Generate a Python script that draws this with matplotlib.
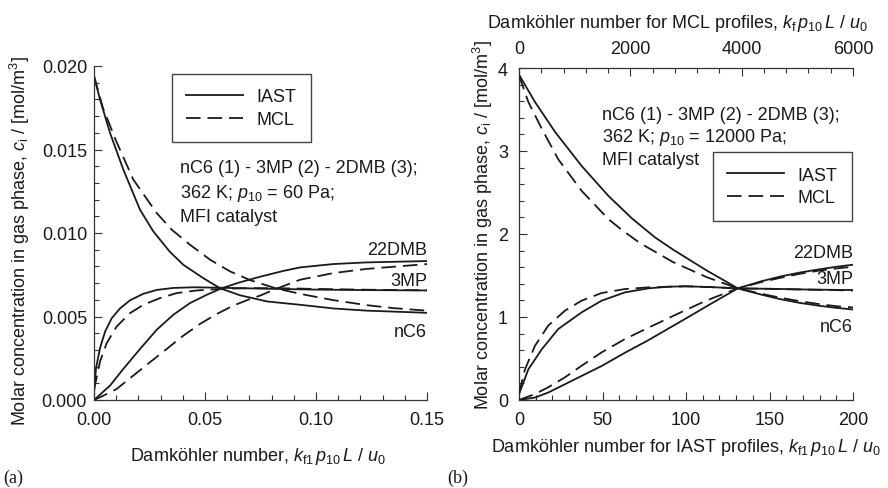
import matplotlib
matplotlib.use("Agg")
import matplotlib.pyplot as plt
from matplotlib.lines import Line2D
from matplotlib.ticker import MultipleLocator, FormatStrFormatter

plt.rcParams['font.family'] = ['Liberation Sans', 'DejaVu Sans']
plt.rcParams['mathtext.fontset'] = 'custom'
plt.rcParams['mathtext.rm'] = 'Liberation Sans'
plt.rcParams['mathtext.it'] = 'Liberation Sans:italic'
plt.rcParams['mathtext.bf'] = 'Liberation Sans:bold'
plt.rcParams['lines.scale_dashes'] = False

# ---------------- data: panel (a), x = k_f1 p10 L / u0 ----------------
a_nC6_iast_x = [0, 0.0027, 0.0072, 0.0132, 0.0207, 0.0267, 0.034, 0.0402, 0.0492, 0.0568, 0.0658, 0.078, 0.093, 0.108, 0.123, 0.15]
a_nC6_iast_y = [0.0194, 0.0180, 0.0160, 0.0138, 0.0114, 0.0101, 0.0089, 0.0081, 0.0073, 0.00669, 0.00627, 0.0059, 0.0057, 0.00548, 0.00535, 0.00522]
a_nC6_mcl_x = [0, 0.004, 0.010, 0.0177, 0.0282, 0.035, 0.0432, 0.0523, 0.0613, 0.0703, 0.0823, 0.095, 0.1078, 0.1228, 0.135, 0.15]
a_nC6_mcl_y = [0.0194, 0.0175, 0.0155, 0.0132, 0.0112, 0.0102, 0.0093, 0.0084, 0.0077, 0.00718, 0.00667, 0.0063, 0.00598, 0.00568, 0.0055, 0.00535]
a_3MP_iast_x = [0, 0.0009, 0.0027, 0.005, 0.008, 0.0117, 0.0162, 0.0222, 0.0282, 0.0357, 0.045, 0.0575, 0.075, 0.10, 0.125, 0.15]
a_3MP_iast_y = [0.0004, 0.0019, 0.0031, 0.0041, 0.0049, 0.00548, 0.00597, 0.00636, 0.00659, 0.00671, 0.00675, 0.00672, 0.00667, 0.00661, 0.00658, 0.00656]
a_3MP_mcl_x = [0, 0.0027, 0.0057, 0.0102, 0.0162, 0.0222, 0.0297, 0.0372, 0.0463, 0.0583, 0.07, 0.085, 0.10, 0.125, 0.15]
a_3MP_mcl_y = [0.0006, 0.0023, 0.0034, 0.0044, 0.0052, 0.0057, 0.0061, 0.0064, 0.00656, 0.00666, 0.0067, 0.00669, 0.00665, 0.0066, 0.00657]
a_22DMB_iast_x = [0, 0.0072, 0.0132, 0.0207, 0.0282, 0.0357, 0.0432, 0.0508, 0.0575, 0.0658, 0.0748, 0.0850, 0.0928, 0.1078, 0.1228, 0.15]
a_22DMB_iast_y = [0.0, 0.00086, 0.00186, 0.00305, 0.0042, 0.0051, 0.0058, 0.0063, 0.00669, 0.00705, 0.00738, 0.00772, 0.00794, 0.00814, 0.00824, 0.00832]
a_22DMB_mcl_x = [0, 0.0042, 0.0102, 0.0177, 0.0252, 0.0327, 0.0402, 0.0477, 0.0553, 0.0627, 0.0703, 0.0748, 0.0823, 0.0928, 0.1078, 0.1228, 0.15]
a_22DMB_mcl_y = [0.0, 0.00026, 0.00066, 0.00146, 0.00226, 0.00305, 0.00385, 0.00455, 0.00515, 0.00565, 0.00605, 0.00625, 0.00667, 0.0072, 0.0076, 0.00785, 0.00814]

# ---------------- data: panel (b) ----------------
# IAST profiles vs k_f1 p10 L / u0 (bottom axis, 0-200)
b_nC6_iast_x = [0, 9.6, 21.6, 37.5, 53.5, 67.5, 81.4, 92.4, 102, 112.4, 122, 131, 145, 156, 168, 180, 190, 200]
b_nC6_iast_y = [3.92, 3.59, 3.23, 2.82, 2.46, 2.19, 1.96, 1.81, 1.69, 1.56, 1.45, 1.345, 1.27, 1.217, 1.17, 1.135, 1.11, 1.09]
b_3MP_iast_x = [0, 5.6, 13.6, 23.5, 37.5, 49.5, 63.5, 77.4, 89.4, 100, 115, 131, 150, 175, 200]
b_3MP_iast_y = [0.07, 0.37, 0.61, 0.855, 1.056, 1.197, 1.297, 1.345, 1.365, 1.37, 1.36, 1.345, 1.34, 1.33, 1.325]
b_22DMB_iast_x = [0, 9.6, 17.5, 27.5, 37.5, 49.5, 63.5, 77.4, 89.4, 99.4, 115, 131, 145, 156, 168, 180, 190, 200]
b_22DMB_iast_y = [0.0, 0.03, 0.09, 0.19, 0.29, 0.41, 0.57, 0.72, 0.86, 0.976, 1.16, 1.345, 1.43, 1.485, 1.535, 1.575, 1.605, 1.63]
# MCL profiles vs k_f p10 L / u0 (top axis, 0-6000)
b_nC6_mcl_x = [0, 168, 408, 705, 1125, 1605, 1845, 2175, 2772, 3372, 3930, 4350, 4680, 5040, 5400, 5700, 6000]
b_nC6_mcl_y = [3.91, 3.59, 3.27, 2.90, 2.52, 2.18, 2.05, 1.89, 1.66, 1.48, 1.345, 1.28, 1.235, 1.19, 1.155, 1.13, 1.115]
b_3MP_mcl_x = [0, 108, 288, 525, 825, 1125, 1485, 1905, 2322, 2982, 3450, 3930, 4800, 6000]
b_3MP_mcl_y = [0.08, 0.37, 0.654, 0.896, 1.076, 1.197, 1.289, 1.337, 1.357, 1.37, 1.36, 1.345, 1.335, 1.32]
b_22DMB_mcl_x = [0, 288, 525, 825, 1125, 1485, 1905, 2322, 2682, 2982, 3372, 3930, 4350, 4680, 5040, 5400, 5700, 6000]
b_22DMB_mcl_y = [0.0, 0.072, 0.153, 0.273, 0.413, 0.574, 0.735, 0.87, 0.985, 1.08, 1.20, 1.345, 1.42, 1.47, 1.52, 1.56, 1.585, 1.605]

species_labels = ["22DMB", "3MP", "nC6"]
a_label_y = [0.00904, 0.00713, 0.00413]
b_label_y = [1.783, 1.458, 0.88]
legend_labels = ["IAST", "MCL"]

W, H = 888, 489
fig = plt.figure(figsize=(W / 100, H / 100), dpi=100)
INK = '#1a1a1a'
LW = 1.3
DASH = (10.5, 5.0)
FS = 13


def fx(px):
    return px / W


def fy(py):
    return 1 - py / H


def style_axis(ax):
    for s in ['top', 'right']:
        ax.spines[s].set_visible(False)
    for s in ['left', 'bottom']:
        ax.spines[s].set_linewidth(0.9)
        ax.spines[s].set_color('#333333')
    ax.tick_params(which='both', direction='in', color='#333333', width=0.8,
                   labelsize=FS, labelcolor=INK)
    ax.tick_params(which='major', length=5.5)
    ax.tick_params(which='minor', length=3.5)


# ---------------- panel (a) ----------------
axa = fig.add_axes([fx(94), fy(401), fx(427 - 94), (401 - 67) / H])
style_axis(axa)
axa.plot(a_nC6_iast_x, a_nC6_iast_y, color=INK, lw=LW)
axa.plot(a_3MP_iast_x, a_3MP_iast_y, color=INK, lw=LW)
axa.plot(a_22DMB_iast_x, a_22DMB_iast_y, color=INK, lw=LW)
axa.plot(a_nC6_mcl_x, a_nC6_mcl_y, color=INK, lw=LW, ls=(0, DASH))
axa.plot(a_3MP_mcl_x, a_3MP_mcl_y, color=INK, lw=LW, ls=(0, DASH))
axa.plot(a_22DMB_mcl_x, a_22DMB_mcl_y, color=INK, lw=LW, ls=(0, DASH))
axa.set_xlim(0, 0.15)
axa.set_ylim(0, 0.020)
axa.xaxis.set_major_locator(MultipleLocator(0.05))
axa.xaxis.set_minor_locator(MultipleLocator(0.01))
axa.yaxis.set_major_locator(MultipleLocator(0.005))
axa.yaxis.set_minor_locator(MultipleLocator(0.001))
axa.xaxis.set_major_formatter(FormatStrFormatter('%.2f'))
axa.yaxis.set_major_formatter(FormatStrFormatter('%.3f'))
axa.tick_params(axis='x', which='major', pad=8)
axa.tick_params(axis='y', which='major', pad=5)
for lab, yv in zip(species_labels, a_label_y):
    axa.text(0.15, yv, lab, ha='right', va='center', fontsize=FS, color=INK)

# ---------------- panel (b) ----------------
axb = fig.add_axes([fx(519), fy(401), fx(853 - 519), (401 - 69) / H])
style_axis(axb)
axb.plot(b_nC6_iast_x, b_nC6_iast_y, color=INK, lw=LW)
axb.plot(b_3MP_iast_x, b_3MP_iast_y, color=INK, lw=LW)
axb.plot(b_22DMB_iast_x, b_22DMB_iast_y, color=INK, lw=LW)
axb.set_xlim(0, 200)
axb.set_ylim(0, 4)
axb.xaxis.set_major_locator(MultipleLocator(50))
axb.xaxis.set_minor_locator(MultipleLocator(10))
axb.yaxis.set_major_locator(MultipleLocator(1))
axb.yaxis.set_minor_locator(MultipleLocator(0.2))
axb.tick_params(axis='x', which='major', pad=8)
axb.tick_params(axis='y', which='major', pad=8)

axt = axb.twiny()
axt.set_xlim(0, 6000)
axt.set_ylim(0, 4)
for s in ['right', 'bottom', 'left']:
    axt.spines[s].set_visible(False)
axt.spines['top'].set_linewidth(0.9)
axt.spines['top'].set_color('#333333')
axt.xaxis.set_major_locator(MultipleLocator(2000))
axt.xaxis.set_minor_locator(MultipleLocator(400))
axt.tick_params(which='both', direction='in', color='#333333', width=0.8,
                labelsize=FS, labelcolor=INK)
axt.tick_params(which='major', length=5.5, pad=8)
axt.tick_params(which='minor', length=3.5)
axt.plot(b_nC6_mcl_x, b_nC6_mcl_y, color=INK, lw=LW, ls=(0, DASH))
axt.plot(b_3MP_mcl_x, b_3MP_mcl_y, color=INK, lw=LW, ls=(0, DASH))
axt.plot(b_22DMB_mcl_x, b_22DMB_mcl_y, color=INK, lw=LW, ls=(0, DASH))
for lab, yv in zip(species_labels, b_label_y):
    axb.text(200, yv, lab, ha='right', va='center', fontsize=FS, color=INK)

# ---------------- labels ----------------
ylab = "Molar concentration in gas phase, $c_\\mathrm{i}$ / [mol/m$^3$]"
fig.text(fx(20), fy(241), ylab, rotation=90, ha='center', va='center', fontsize=FS, color=INK)
fig.text(fx(483), fy(225), ylab, rotation=90, ha='center', va='center', fontsize=FS, color=INK)
fig.text(fx(258), fy(457), "Damköhler number, $k_\\mathrm{f1}\\,p_{10}\\,L$ / $u_0$",
         ha='center', va='center', fontsize=FS, color=INK)
fig.text(fx(686), fy(448), "Damköhler number for IAST profiles, $k_\\mathrm{f1}\\,p_{10}\\,L$ / $u_0$",
         ha='center', va='center', fontsize=FS, color=INK)
fig.text(fx(678), fy(23), "Damköhler number for MCL profiles, $k_\\mathrm{f}\\,p_{10}\\,L$ / $u_0$",
         ha='center', va='center', fontsize=FS, color=INK)
fig.text(fx(3), fy(478), "(a)", family='Liberation Serif', fontsize=FS, ha='left', va='center', color=INK)
fig.text(fx(447), fy(478), "(b)", family='Liberation Serif', fontsize=FS, ha='left', va='center', color=INK)

# annotation text
a_lines = ["nC6 (1) - 3MP (2) - 2DMB (3);", "362 K; $p_{10}$ = 60 Pa;", "MFI catalyst"]
for t, by in zip(a_lines, [173, 198, 222]):
    fig.text(fx(180), fy(by), t, ha='left', va='baseline', fontsize=FS, color=INK)
b_lines = ["nC6 (1) - 3MP (2) - 2DMB (3);", "362 K; $p_{10}$ = 12000 Pa;", "MFI catalyst"]
for t, by in zip(b_lines, [120, 142, 165]):
    fig.text(fx(602), fy(by), t, ha='left', va='baseline', fontsize=FS, color=INK)

# legends
handles = [Line2D([], [], color=INK, lw=LW), Line2D([], [], color=INK, lw=LW, ls=(0, DASH))]
for ax, (lx, ly) in [(axa, (171.7, 75)), (axt, (712.7, 153.3))]:
    leg = ax.legend(handles, legend_labels, loc='upper left', bbox_to_anchor=(fx(lx), fy(ly)),
                    bbox_transform=fig.transFigure, fontsize=FS, frameon=True, fancybox=False,
                    framealpha=1, edgecolor='#444444', borderpad=0.8, handlelength=3.15,
                    handletextpad=0.75, labelspacing=0.3, borderaxespad=0)
    leg.get_frame().set_linewidth(1.0)
    for t in leg.get_texts():
        t.set_color(INK)

fig.savefig("out.png", dpi=100)
